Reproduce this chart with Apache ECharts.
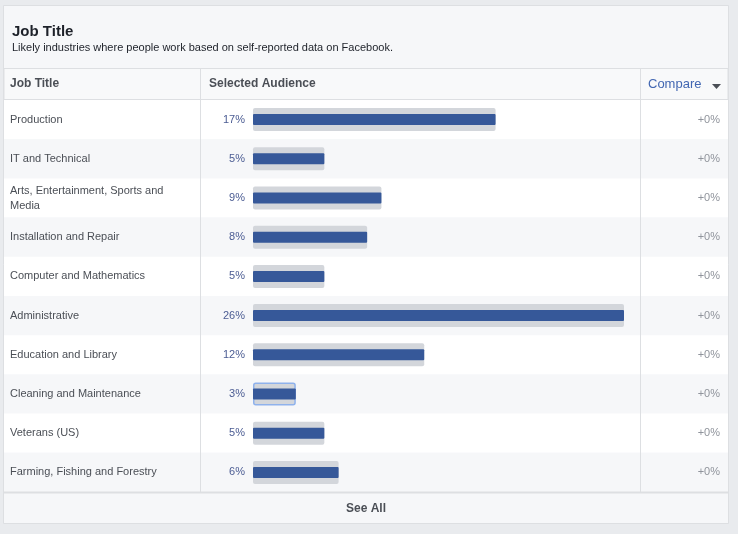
<!DOCTYPE html>
<html>
<head>
<meta charset="utf-8">
<script src="https://cdn.jsdelivr.net/npm/echarts@6/dist/echarts.min.js"></script>
<style>
  html, body { margin: 0; padding: 0; background: #e9ebee; }
  #main { width: 738px; height: 534px; }
</style>
</head>
<body>
<div id="main"></div>
<script>
var categories = [
  'Production',
  'IT and Technical',
  'Arts, Entertainment, Sports and Media',
  'Installation and Repair',
  'Computer and Mathematics',
  'Administrative',
  'Education and Library',
  'Cleaning and Maintenance',
  'Veterans (US)',
  'Farming, Fishing and Forestry'
];
var audienceValues = [17, 5, 9, 8, 5, 26, 12, 3, 5, 6];
var compareValues = [0, 0, 0, 0, 0, 0, 0, 0, 0, 0];
var selectedRow = 'Cleaning and Maintenance';

var font = 'Liberation Sans, Arial, Helvetica, sans-serif';
var chart = echarts.init(document.getElementById('main'));

// wrap long names on word boundaries (about 31 chars a line)
function wrap(s) {
  var words = s.split(' '), lines = [], cur = '';
  words.forEach(function (w) {
    if (cur && (cur + ' ' + w).length > 31) { lines.push(cur); cur = w; }
    else { cur = cur ? cur + ' ' + w : w; }
  });
  lines.push(cur);
  return lines.join('\n');
}

var grayData = audienceValues.map(function (v, i) {
  if (categories[i] === selectedRow) {
    return { value: v, itemStyle: { borderColor: '#8fb2ec', borderWidth: 1.5 } };
  }
  return v;
});

var option = {
  backgroundColor: '#e9ebee',
  animation: false,
  textStyle: { fontFamily: font },
  graphic: [
    // card
    { type: 'rect', z: -10, shape: { x: 3.5, y: 5.5, width: 725, height: 518 },
      style: { fill: '#f6f7f9', stroke: '#dddfe2', lineWidth: 1 } },
    // table header row
    { type: 'rect', z: -9, shape: { x: 4, y: 68.5, width: 724, height: 31 },
      style: { fill: '#f8f9fa', stroke: '#dddfe2', lineWidth: 1 } },
    { type: 'line', z: 50, shape: { x1: 4, y1: 492.5, x2: 728, y2: 492.5 },
      style: { stroke: '#dddfe2', lineWidth: 2 } },
    { type: 'line', z: 50, shape: { x1: 200.5, y1: 69, x2: 200.5, y2: 492 },
      style: { stroke: '#dddfe2', lineWidth: 1 } },
    { type: 'line', z: 50, shape: { x1: 640.5, y1: 69, x2: 640.5, y2: 492 },
      style: { stroke: '#dddfe2', lineWidth: 1 } },
    // titles
    { type: 'text', z: 50, style: { x: 12, y: 31.5, text: 'Job Title', fill: '#1d2129',
      font: 'bold 15px ' + font, textVerticalAlign: 'middle' } },
    { type: 'text', z: 50, style: { x: 12, y: 47.5, text: 'Likely industries where people work based on self-reported data on Facebook.',
      fill: '#1d2129', font: '11px ' + font, textVerticalAlign: 'middle' } },
    { type: 'text', z: 50, style: { x: 10, y: 84, text: 'Job Title', fill: '#4b4f56',
      font: 'bold 12px ' + font, textVerticalAlign: 'middle' } },
    { type: 'text', z: 50, style: { x: 209, y: 84, text: 'Selected Audience', fill: '#4b4f56',
      font: 'bold 12px ' + font, textVerticalAlign: 'middle' } },
    { type: 'text', z: 50, style: { x: 648, y: 84, text: 'Compare', fill: '#4267b2',
      font: '13px ' + font, textVerticalAlign: 'middle' } },
    { type: 'polygon', z: 50, shape: { points: [[712, 84], [721, 84], [716.5, 89]] },
      style: { fill: '#4b4f56' } },
    { type: 'text', z: 50, style: { x: 366, y: 509, text: 'See All', fill: '#4b4f56',
      font: 'bold 12px ' + font, textAlign: 'center', textVerticalAlign: 'middle' } }
  ],
  grid: [
    { left: 4, right: 10, top: 100, height: 392 },
    { left: 253, right: 114, top: 100, height: 392 }
  ],
  xAxis: [
    { type: 'value', gridIndex: 0, min: 0, max: 1, show: false },
    { type: 'value', gridIndex: 1, min: 0, max: 26, show: false }
  ],
  yAxis: [
    {
      type: 'category', gridIndex: 0, inverse: true, data: categories,
      axisLine: { show: false }, axisTick: { show: false }, splitLine: { show: false },
      splitArea: { show: true, areaStyle: { color: ['#ffffff', '#f6f7f9'] } },
      axisLabel: {
        inside: true, margin: 6, color: '#4b4f56', fontSize: 11, fontFamily: font,
        lineHeight: 15, formatter: wrap
      }
    },
    {
      type: 'category', gridIndex: 0, inverse: true, position: 'right', data: categories,
      axisLine: { show: false }, axisTick: { show: false }, splitLine: { show: false },
      axisLabel: {
        inside: true, margin: 8, color: '#90949c', fontSize: 11, fontFamily: font,
        formatter: function (v, i) { return '+' + compareValues[i] + '%'; }
      }
    },
    // separate hidden axes so the track and the bar are each centred on the row
    { type: 'category', gridIndex: 1, inverse: true, data: categories, show: false },
    { type: 'category', gridIndex: 1, inverse: true, data: categories, show: false }
  ],
  series: [
    {
      type: 'bar', xAxisIndex: 1, yAxisIndex: 2, data: grayData,
      barWidth: 23, z: 2,
      itemStyle: { color: '#d3d6db', borderRadius: 2 },
      label: {
        show: true, position: 'left', distance: 8, color: '#4b5c93',
        fontSize: 11, fontFamily: font,
        formatter: function (p) { return p.value + '%'; }
      }
    },
    {
      type: 'bar', xAxisIndex: 1, yAxisIndex: 3, data: audienceValues,
      barWidth: 11, z: 3,
      itemStyle: { color: '#365899', borderRadius: 1 }
    }
  ]
};
chart.setOption(option);
</script>
</body>
</html>
